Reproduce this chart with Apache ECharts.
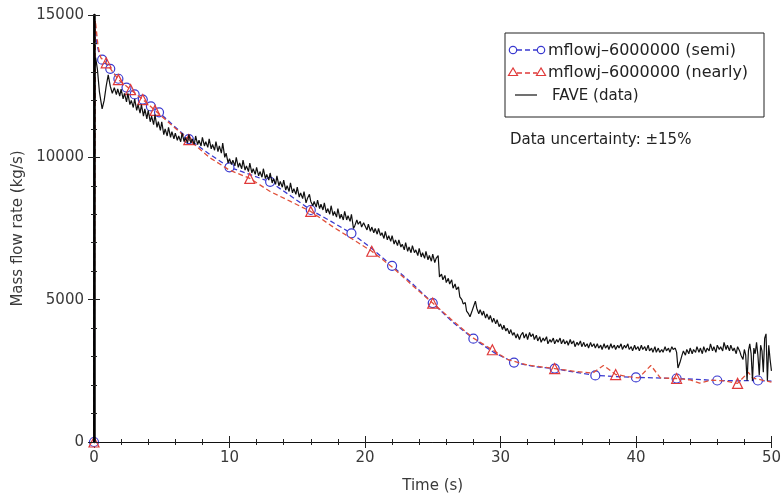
<!DOCTYPE html>
<html>
<head>
<meta charset="utf-8">
<script src="https://cdn.jsdelivr.net/npm/echarts@6/dist/echarts.min.js"></script>
<style>
html,body{margin:0;padding:0;background:#fff;}
#chart{width:784px;height:499px;}
</style>
</head>
<body>
<div id="chart"></div>
<script>
// ---- data ----
const xTicks = [0, 10, 20, 30, 40, 50];
const yTicks = [0, 5000, 10000, 15000];
const seriesNames = ['mflowj\u20136000000 (semi)', 'mflowj\u20136000000 (nearly)', 'FAVE (data)'];

const semiPts = [[0,0],[0.05,14800],[0.2,14000],[0.4,13600],[0.6,13430],[1.2,13110],[1.8,12760],[2.4,12450],[3.0,12210],[3.6,12030],[4.2,11790],[4.8,11580],[5.9,11100],[7.0,10640],[8.5,10120],[10,9650],[11.5,9400],[13,9140],[14.5,8650],[16,8150],[17.5,7750],[19,7330],[20.5,6800],[22,6190],[23.5,5560],[25,4880],[26.5,4200],[28,3630],[29.5,3150],[31,2790],[32.5,2650],[34,2580],[35.5,2450],[37,2340],[38.5,2300],[40,2270],[41.5,2250],[43,2230],[44.5,2200],[46,2160],[47.5,2150],[49,2160],[50,2140]];
const semiMarkT = [0,0.6,1.2,1.8,2.4,3.0,3.6,4.2,4.8,7.0,10,13,16,19,22,25,28,31,34,37,40,43,46,49];

const nearlyPts = [[0,0],[0.1,14800],[0.3,13900],[0.5,13500],[0.9,13320],[1.8,12730],[2.7,12380],[3.6,12030],[4.5,11650],[5.8,11100],[7.0,10620],[8.5,10000],[10,9550],[11.5,9260],[13,8800],[14.5,8450],[16,8100],[17.5,7600],[19,7150],[20.5,6700],[22,6150],[23.5,5500],[25,4880],[26.5,4250],[28,3650],[29.4,3240],[30.5,2900],[32,2700],[34,2580],[35.5,2480],[36.8,2420],[37.6,2690],[38.5,2370],[39.4,2300],[40.2,2250],[41.1,2690],[41.8,2250],[43,2230],[44,2180],[44.7,2070],[45.5,2170],[46.5,2150],[47.5,2060],[48.3,2450],[48.6,2250],[50,2100]];
const nearlyMarkT = [0,0.9,1.8,2.7,3.6,4.5,7.0,11.5,16,20.5,25,29.4,34,38.5,43,47.5];

const favePts = [[0,0],[0.05,13000],[0.12,13500],[0.25,13100],[0.4,12300],[0.6,11700],[0.75,12000],[0.9,12500],[1.05,12900],[1.2,12500],[1.35,12250],[1.5,12450],
[1.65,12200],[1.75,12400],[1.9,12150],[2.0,12400],[2.15,12050],[2.25,12250],[2.4,11950],[2.5,12250],[2.65,11850],[2.75,12000],[2.9,11750],[3.0,12050],[3.15,11650],[3.25,11850],[3.4,11550],[3.5,11850],[3.65,11450],[3.75,11700],[3.9,11350],[4.0,11650],[4.15,11250],[4.25,11450],[4.4,11150],[4.5,11500],[4.65,11050],[4.75,11250],[4.9,10950],[5.0,11250],[5.15,10800],[5.25,11000],[5.4,10750],[5.5,11050],[5.65,10700],[5.75,10900],[5.9,10650],[6.0,10850],[6.15,10600],[6.25,10750],[6.4,10550],[6.5,10850],[6.65,10550],[6.75,10700],[6.9,10500],[7.0,10800],[7.15,10500],[7.25,10650],[7.4,10450],[7.5,10750],[7.65,10450],[7.75,10600],[7.9,10400],[8.0,10700],[8.15,10400],[8.25,10550],[8.4,10350],[8.5,10650],[8.65,10300],[8.75,10450],[8.9,10250],[9.0,10550],[9.15,10200],[9.25,10400],[9.4,10150],[9.5,10500],[9.65,10000],[9.75,10150],[9.9,9800],[10.0,9950],
[10.15,9750],[10.25,9900],[10.4,9700],[10.5,10000],[10.65,9650],[10.75,9800],[10.9,9600],[11.0,9900],[11.15,9550],[11.25,9700],[11.4,9500],[11.5,9800],[11.65,9450],[11.75,9600],[11.9,9400],[12.0,9650],[12.15,9350],[12.25,9500],[12.4,9300],[12.5,9600],[12.65,9250],[12.75,9400],[12.9,9200],[13.0,9450],[13.15,9100],[13.25,9250],[13.4,9050],[13.5,9350],[13.65,9000],[13.75,9150],[13.9,8950],[14.0,9200],[14.15,8850],[14.25,9000],[14.4,8800],[14.5,9100],[14.65,8750],[14.75,8900],[14.9,8700],[15.0,8950],[15.15,8600],[15.25,8750],[15.4,8550],[15.5,8800],[15.65,8400],[15.75,8550],[15.9,8700],[16.0,8450],[16.15,8300],[16.25,8450],[16.4,8250],[16.5,8500],[16.65,8200],[16.75,8350],[16.9,8150],[17.0,8400],[17.15,8050],[17.25,8200],[17.4,8000],[17.5,8300],[17.65,7950],[17.75,8100],[17.9,7900],[18.0,8200],[18.15,7850],[18.25,8000],[18.4,7800],[18.5,8100],[18.65,7800],[18.75,7950],[18.9,7750],[19.0,8000],[19.15,7500],[19.25,7600],[19.4,7800],[19.5,7650],[19.65,7750],[19.75,7550],[19.9,7700],[20.0,7600],
[20.15,7450],[20.25,7650],[20.4,7400],[20.5,7550],[20.65,7350],[20.75,7500],[20.9,7300],[21.0,7500],[21.15,7250],[21.25,7350],[21.4,7150],[21.5,7400],[21.65,7100],[21.75,7250],[21.9,7050],[22.0,7250],[22.15,6950],[22.25,7100],[22.4,6900],[22.5,7100],[22.65,6850],[22.75,6950],[22.9,6750],[23.0,7000],[23.15,6700],[23.25,6850],[23.4,6650],[23.5,6900],[23.65,6650],[23.75,6750],[23.9,6550],[24.0,6800],[24.15,6500],[24.25,6650],[24.4,6450],[24.5,6700],[24.65,6400],[24.75,6550],[24.9,6350],[25.0,6600],[25.15,6300],[25.25,6450],[25.4,6550],[25.5,5800],[25.65,5900],[25.75,5700],[25.9,5850],[26.0,5600],[26.15,5750],[26.25,5550],[26.4,5700],[26.5,5400],[26.65,5550],[26.75,5350],[26.9,5450],[27.0,5100],[27.15,5000],[27.25,4850],[27.4,4900],[27.5,4600],[27.65,4500],[27.75,4400],[27.9,4600],[28.0,4550],[28.15,4950],[28.25,4700],[28.4,4500],[28.5,4650],[28.65,4450],[28.75,4600],[28.9,4350],[29.0,4500],[29.15,4300],[29.25,4450],[29.4,4200],[29.5,4350],[29.65,4150],[29.75,4300],[29.9,4050],[30.0,4150],
[30.15,3950],[30.25,4100],[30.4,3900],[30.5,4000],[30.65,3800],[30.75,3950],[30.9,3750],[31.0,3850],[31.15,3650],[31.25,3800],[31.4,3600],[31.5,3750],[31.65,3850],[31.75,3650],[31.9,3800],[32.0,3600],[32.15,3850],[32.25,3700],[32.4,3800],[32.5,3600],[32.65,3750],[32.75,3550],[32.9,3700],[33.0,3500],[33.15,3650],[33.25,3550],[33.4,3700],[33.5,3450],[33.65,3600],[33.75,3500],[33.9,3650],[34.0,3450],[34.15,3600],[34.25,3500],[34.4,3650],[34.5,3450],[34.65,3600],[34.75,3450],[34.9,3550],[35.0,3400],[35.15,3600],[35.25,3450],[35.4,3550],[35.5,3350],[35.65,3500],[35.75,3400],[35.9,3550],[36.0,3350],[36.15,3500],[36.25,3350],[36.4,3450],[36.5,3300],[36.65,3500],[36.75,3350],[36.9,3450],[37.0,3300],[37.15,3450],[37.25,3300],[37.4,3400],[37.5,3250],[37.65,3450],[37.75,3300],[37.9,3400],[38.0,3250],[38.15,3450],[38.25,3300],[38.4,3400],[38.5,3250],[38.65,3400],[38.75,3300],[38.9,3450],[39.0,3250],[39.15,3400],[39.25,3300],[39.4,3450],[39.5,3250],[39.65,3350],[39.75,3200],[39.9,3400],[40.0,3250],
[40.15,3350],[40.25,3200],[40.4,3400],[40.5,3250],[40.65,3350],[40.75,3200],[40.9,3400],[41.0,3200],[41.15,3300],[41.25,3150],[41.4,3350],[41.5,3150],[41.65,3300],[41.75,3150],[41.9,3250],[42.0,3150],[42.15,3350],[42.25,3200],[42.4,3300],[42.5,3150],[42.65,3350],[42.75,3250],[42.9,3300],[43.0,3150],[43.1,2600],[43.25,2800],[43.4,3050],[43.5,3200],[43.65,3050],[43.75,3250],[43.9,3100],[44.0,3300],[44.15,3100],[44.25,3250],[44.4,3150],[44.5,3350],[44.65,3150],[44.75,3300],[44.9,3100],[45.0,3350],[45.15,3150],[45.25,3300],[45.4,3200],[45.5,3450],[45.65,3200],[45.75,3350],[45.9,3150],[46.0,3400],[46.15,3250],[46.25,3350],[46.4,3200],[46.5,3500],[46.65,3250],[46.75,3400],[46.9,3200],[47.0,3400],[47.15,3200],[47.25,3300],[47.4,3100],[47.5,3350],[47.65,3200],[47.75,3050],[47.9,2900],[48.0,3250],[48.1,3050],[48.2,2150],[48.3,3200],[48.4,3450],[48.5,3100],[48.6,2150],[48.7,3300],[48.8,3100],[48.9,3500],[49.0,3050],[49.1,2350],[49.2,3400],[49.3,3200],[49.4,2450],[49.5,3650],[49.6,3800],[49.7,2150],[49.8,3400],[49.9,2900],[50.0,2500]];

const noteText = 'Data uncertainty: \u00b115%';
const xName = 'Time (s)';
const yName = 'Mass flow rate (kg/s)';

// ---- chart ----
const FONT = 'DejaVu Sans';
const TXT = '#3a3a3a';
const BLUE = '#3a3ad0';
const RED = '#e03a3a';
function withMarks(pts, marks, sym) {
  const s = new Set(marks);
  return pts.map(p => ({ value: p, symbol: s.has(p[0]) ? sym : 'none' }));
}
const chart = echarts.init(document.getElementById('chart'), null, { renderer: 'canvas' });
const axisCommon = {
  type: 'value',
  splitLine: { show: false },
  axisTick: { show: true, inside: true, length: 6, lineStyle: { color: '#222' } },
  minorTick: { show: true, splitNumber: 5, length: 3, lineStyle: { color: '#222' } },
};
const fmt = v => String(v);

// custom legend (graphic)
const LX = 505, LY = 33, LW = 259, LH = 84;
const rows = [50, 72, 95];
const legendG = [
  { type: 'rect', shape: { x: LX, y: LY, width: LW, height: LH }, style: { fill: '#fff', stroke: '#222', lineWidth: 1 }, z: 10 },
  { type: 'line', shape: { x1: 517, y1: rows[0], x2: 537, y2: rows[0] }, style: { stroke: BLUE, lineWidth: 1.3, lineDash: [5, 3] }, z: 11 },
  { type: 'circle', shape: { cx: 513, cy: rows[0], r: 3.7 }, style: { fill: '#fff', stroke: BLUE, lineWidth: 1.2 }, z: 12 },
  { type: 'circle', shape: { cx: 541, cy: rows[0], r: 3.7 }, style: { fill: '#fff', stroke: BLUE, lineWidth: 1.2 }, z: 12 },
  { type: 'text', x: 548, y: rows[0] + 1, style: { text: seriesNames[0], fontFamily: FONT, fontSize: 16, fill: '#222', verticalAlign: 'middle' }, z: 12 },
  { type: 'line', shape: { x1: 517, y1: rows[1] + 1, x2: 537, y2: rows[1] + 1 }, style: { stroke: RED, lineWidth: 1.3, lineDash: [5, 3] }, z: 11 },
  { type: 'polygon', shape: { points: [[513, rows[1] - 4], [508.5, rows[1] + 3.5], [517.5, rows[1] + 3.5]] }, style: { fill: '#fff', stroke: RED, lineWidth: 1.2 }, z: 12 },
  { type: 'polygon', shape: { points: [[541, rows[1] - 4], [536.5, rows[1] + 3.5], [545.5, rows[1] + 3.5]] }, style: { fill: '#fff', stroke: RED, lineWidth: 1.2 }, z: 12 },
  { type: 'text', x: 548, y: rows[1] + 1, style: { text: seriesNames[1], fontFamily: FONT, fontSize: 16, fill: '#222', verticalAlign: 'middle' }, z: 12 },
  { type: 'line', shape: { x1: 515, y1: rows[2], x2: 537, y2: rows[2] }, style: { stroke: '#111', lineWidth: 1.2 }, z: 11 },
  { type: 'text', x: 552, y: rows[2] + 1, style: { text: seriesNames[2], fontFamily: FONT, fontSize: 15, fill: '#222', verticalAlign: 'middle' }, z: 12 },
  { type: 'text', x: 510, y: 140, style: { text: noteText, fontFamily: FONT, fontSize: 15, fill: '#222', verticalAlign: 'middle' }, z: 12 }
];

chart.setOption({
  animation: false,
  backgroundColor: '#fff',
  grid: { left: 94, right: 10, top: 15, bottom: 54 },
  xAxis: [
    Object.assign({}, axisCommon, {
      min: xTicks[0], max: xTicks[xTicks.length - 1], interval: 10,
      name: xName, nameLocation: 'middle', nameGap: 37,
      nameTextStyle: { fontFamily: FONT, fontSize: 15, color: TXT },
      axisLine: { show: true, onZero: false, lineStyle: { color: '#333', width: 1 } },
      axisLabel: { fontFamily: FONT, fontSize: 15, color: TXT, margin: 9, formatter: fmt },
    }),
    Object.assign({}, axisCommon, {
      position: 'top', min: xTicks[0], max: xTicks[xTicks.length - 1], interval: 10,
      axisLine: { show: true, lineStyle: { color: '#111', width: 1 } },
      axisLabel: { show: false },
    })
  ],
  yAxis: [
    Object.assign({}, axisCommon, {
      min: yTicks[0], max: yTicks[yTicks.length - 1], interval: 5000, zlevel: 1,
      name: yName, nameLocation: 'middle', nameGap: 57,
      nameTextStyle: { fontFamily: FONT, fontSize: 15, color: TXT },
      axisLine: { show: true, onZero: false, lineStyle: { color: '#000', width: 2.5 } },
      axisLabel: { fontFamily: FONT, fontSize: 15, color: TXT, margin: 10, formatter: fmt },
    }),
    Object.assign({}, axisCommon, {
      position: 'right', min: yTicks[0], max: yTicks[yTicks.length - 1], interval: 5000, zlevel: 1,
      axisLine: { show: true, lineStyle: { color: '#000', width: 1.5 } },
      axisLabel: { show: false },
    })
  ],
  graphic: legendG,
  series: [
    {
      name: seriesNames[0], type: 'line', symbol: 'circle', showSymbol: true, showAllSymbol: true,
      symbolSize: 9, color: BLUE,
      itemStyle: { color: '#fff', borderColor: BLUE, borderWidth: 1.2 },
      lineStyle: { color: BLUE, width: 1.3, type: [5, 3] },
      data: withMarks(semiPts, semiMarkT, 'circle'), z: 3
    },
    {
      name: seriesNames[1], type: 'line', symbol: 'triangle', showSymbol: true, showAllSymbol: true,
      symbolSize: 10, color: RED,
      itemStyle: { color: 'rgba(255,255,255,0)', borderColor: RED, borderWidth: 1.2 },
      lineStyle: { color: '#e0503a', width: 1.3, type: [5, 3] },
      data: withMarks(nearlyPts, nearlyMarkT, 'triangle'), z: 4
    },
    {
      name: seriesNames[2], type: 'line', showSymbol: false, symbol: 'none',
      color: '#111', lineStyle: { color: '#111', width: 1.2 },
      data: favePts, z: 5
    }
  ]
});
</script>
</body>
</html>
